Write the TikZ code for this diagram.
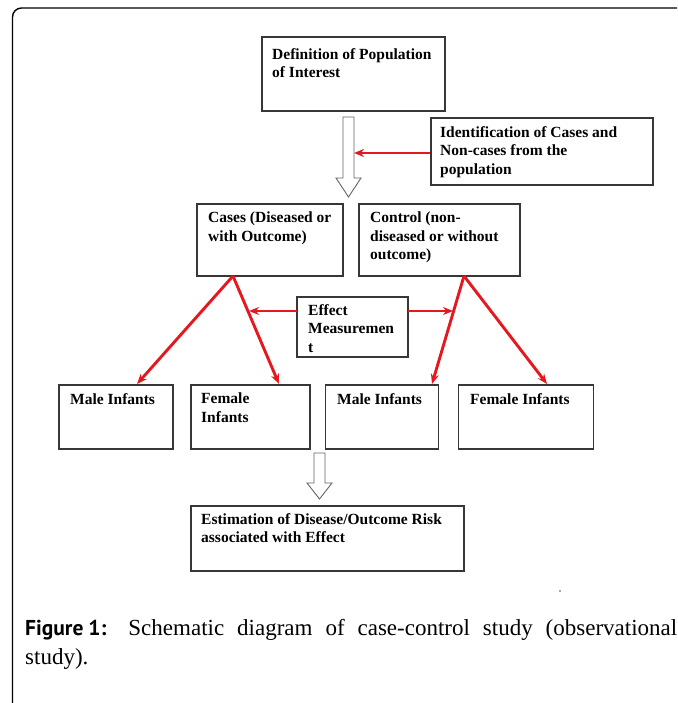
\documentclass[tikz,border=0pt]{standalone}
\usepackage{fontspec}
\setmainfont{Liberation Serif}
\newfontfamily\capsans{PT Sans}
\usetikzlibrary{arrows.meta}
\definecolor{redarr}{RGB}{228,24,30}
\definecolor{boxline}{RGB}{55,55,55}
\definecolor{hollow}{RGB}{100,100,100}
\begin{document}
\begin{tikzpicture}[x=1pt,y=-1pt,
  box/.style={draw=boxline,line width=1.1pt,rectangle,inner sep=0pt},
  txt/.style={anchor=north west,inner sep=0pt,align=left,font=\fontsize{15.5}{18.5}\selectfont\bfseries},
  redline/.style={draw=redarr,line width=2.9pt,-{Stealth[length=10pt,width=8pt]}},
  hollowarrow/.style={draw=hollow,line width=0.9pt,fill=white}
]
\useasboundingbox (0,0) rectangle (677,703);
% frame
\draw[line width=1.4pt,rounded corners=9pt] (12.5,703) -- (12.5,8) -- (677,8);

% boxes
\node[box,minimum width=183pt,minimum height=74pt] (def) at (353.5,74) {};
\node[box,minimum width=222pt,minimum height=67pt] (ident) at (542,151.5) {};
\node[box,minimum width=146pt,minimum height=72pt] (cases) at (270,240) {};
\node[box,minimum width=161pt,minimum height=72pt] (ctrl) at (439.5,240) {};
\node[box,minimum width=111pt,minimum height=60pt] (eff) at (352.5,327) {};
\node[box,minimum width=114pt,minimum height=64pt] (m1) at (116,417) {};
\node[box,minimum width=119pt,minimum height=64pt] (f1) at (250.5,417) {};
\node[box,minimum width=113pt,minimum height=64pt] (m2) at (382,417) {};
\node[box,minimum width=135pt,minimum height=64pt] (f2) at (526,417) {};
\node[box,minimum width=273pt,minimum height=65pt] (est) at (327.5,538.5) {};

% texts
\node[txt] (tdef) at (272,48) {Definition of Population\\of Interest};
\node[txt] (tident) at (440,126) {Identification of Cases and\\Non-cases from the\\population};
\node[txt] (tcases) at (208,212) {Cases (Diseased or\\with Outcome)};
\node[txt] (tctrl) at (370,212) {Control (non-\\diseased or without\\outcome)};
\node[txt] (teff) at (308,304) {Effect\\Measuremen\\t};
\node[txt] (tm1) at (70,393) {Male Infants};
\node[txt] (tf1) at (201,393) {Female\\Infants};
\node[txt] (tm2) at (337,393) {Male Infants};
\node[txt] (tf2) at (470,393) {Female Infants};
\node[txt] (test) at (201,513) {Estimation of Disease/Outcome Risk\\associated with Effect};

% hollow arrows
\draw[hollowarrow] (343,117) -- (354,117) -- (354,178) -- (361,178) -- (348.5,197) -- (336,178) -- (343,178) -- cycle;
\draw[hollowarrow] (314,453) -- (325,453) -- (325,483) -- (332,483) -- (319.5,499) -- (307,483) -- (314,483) -- cycle;

% red connectors
\coordinate (shaftR) at (354,153);
\coordinate (identL) at (430,153);
\draw[redline] (identL) -- (shaftR);

\coordinate (cs) at (233,276);
\coordinate (ct) at (464,276);
\coordinate (m1t) at (137,384);
\coordinate (f1t) at (279,384);
\coordinate (m2t) at (432,384);
\coordinate (f2t) at (547,384);
\draw[redline] (cs) -- (m1t);
\draw[redline] (cs) -- (f1t);
\draw[redline] (ct) -- (m2t);
\draw[redline] (ct) -- (f2t);

\coordinate (effL) at (297,311);
\coordinate (effR) at (408,311);
\coordinate (lineL) at (249,311);
\coordinate (lineR) at (453,311);
\draw[redline] (effL) -- (lineL);
\draw[redline] (effR) -- (lineR);

% tiny dot
\fill[black!70] (560,591) circle (0.8pt);

% caption
\node[anchor=north west,inner sep=0pt,text width=652pt,align=justify,
      font=\fontsize{23}{29}\selectfont] (cap) at (25,619)
  {{\capsans\bfseries\fontsize{21.5}{29}\selectfont Figure\hspace{5pt}1:} Schematic diagram of case-control study (observational\linebreak study).};
\end{tikzpicture}
\end{document}
